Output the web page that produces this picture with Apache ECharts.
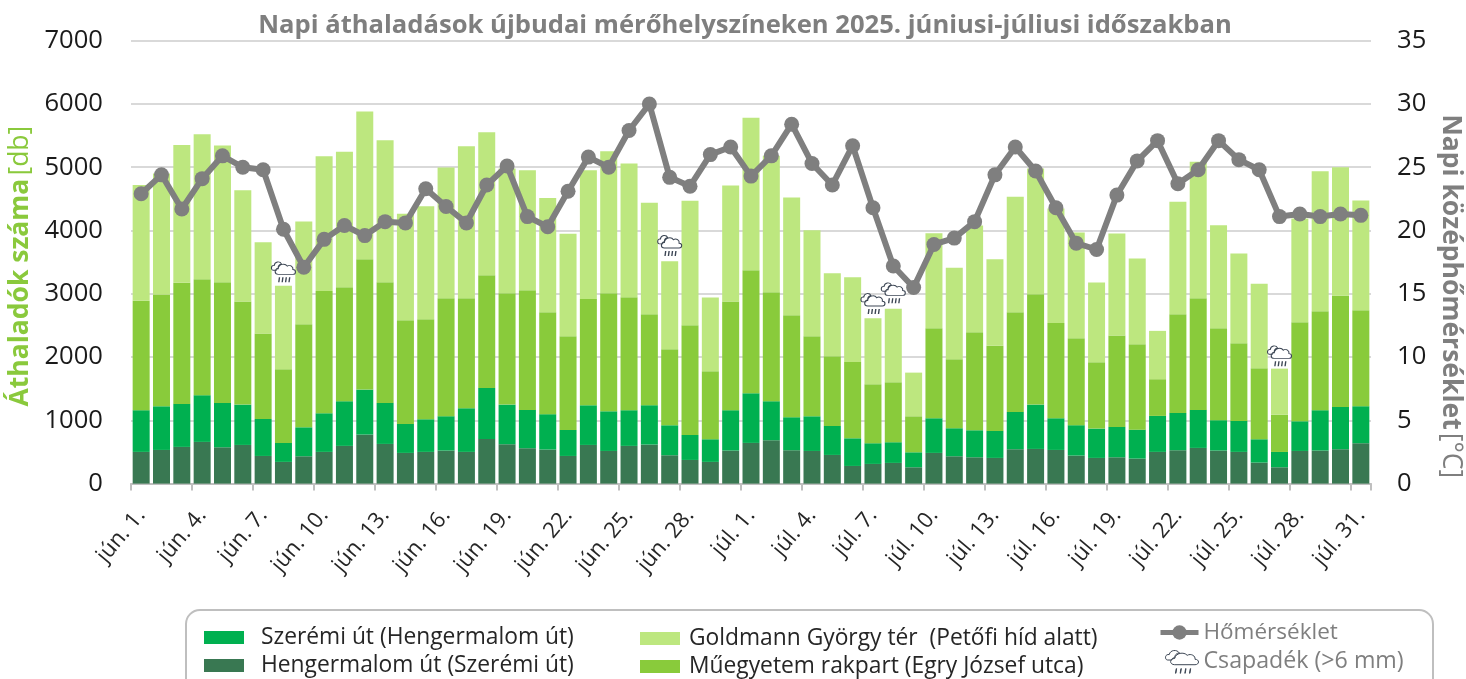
<!DOCTYPE html>
<html><head><meta charset="utf-8">
<style>html,body{margin:0;padding:0;background:#fff}#c{width:1466px;height:679px}</style>
<script src="https://cdn.jsdelivr.net/npm/echarts@6/dist/echarts.min.js"></script>
</head><body><div id="c"></div>
<script>
const categories = ["jún. 1.","jún. 2.","jún. 3.","jún. 4.","jún. 5.","jún. 6.","jún. 7.","jún. 8.","jún. 9.","jún. 10.","jún. 11.","jún. 12.","jún. 13.","jún. 14.","jún. 15.","jún. 16.","jún. 17.","jún. 18.","jún. 19.","jún. 20.","jún. 21.","jún. 22.","jún. 23.","jún. 24.","jún. 25.","jún. 26.","jún. 27.","jún. 28.","jún. 29.","jún. 30.","júl. 1.","júl. 2.","júl. 3.","júl. 4.","júl. 5.","júl. 6.","júl. 7.","júl. 8.","júl. 9.","júl. 10.","júl. 11.","júl. 12.","júl. 13.","júl. 14.","júl. 15.","júl. 16.","júl. 17.","júl. 18.","júl. 19.","júl. 20.","júl. 21.","júl. 22.","júl. 23.","júl. 24.","júl. 25.","júl. 26.","júl. 27.","júl. 28.","júl. 29.","júl. 30.","júl. 31."];
const hengermalom = [501,532,580,659,574,611,437,343,432,501,596,775,627,485,501,522,501,706,622,559,538,437,611,516,596,617,448,374,343,522,643,685,527,516,453,279,311,327,258,485,432,416,406,543,548,532,443,406,416,395,501,527,564,522,501,332,258,516,522,543,638];
const szeremi = [659,690,680,738,701,638,585,300,458,611,706,711,648,458,516,543,690,806,627,606,559,411,627,627,564,622,474,395,358,638,785,617,522,548,458,437,327,327,237,548,443,427,427,590,701,501,480,464,480,458,569,590,601,480,490,369,242,469,638,669,585];
const muegyetem = [1729,1765,1913,1834,1908,1628,1349,1165,1628,1934,1802,2061,1908,1639,1581,1866,1739,1781,1760,1892,1613,1481,1681,1866,1787,1439,1202,1734,1075,1718,1945,1723,1613,1265,1101,1207,933,949,569,1423,1091,1549,1344,1576,1744,1507,1375,1049,1444,1349,580,1560,1765,1455,1228,1123,590,1565,1565,1755,1518];
const goldmann = [1829,1913,2177,2292,2161,1760,1444,1318,1623,2129,2140,2335,2245,1681,1787,2066,2403,2261,1971,1897,1802,1618,2034,2245,2113,1760,1391,1966,1165,1834,2408,2155,1860,1676,1312,1339,1043,1159,690,1502,1444,1686,1370,1823,1987,1808,1671,1260,1613,1354,764,1776,2155,1628,1418,1333,727,1639,2213,2034,1734];
const homerseklet = [22.9,24.4,21.7,24.1,25.9,25.0,24.8,20.1,17.1,19.3,20.4,19.6,20.7,20.6,23.3,21.9,20.6,23.6,25.1,21.1,20.3,23.1,25.8,25.0,27.9,30.0,24.2,23.5,26.0,26.6,24.3,25.9,28.4,25.3,23.6,26.7,21.8,17.2,15.5,18.9,19.4,20.7,24.4,26.6,24.7,21.8,19.0,18.5,22.8,25.5,27.1,23.7,24.8,27.1,25.6,24.8,21.1,21.3,21.1,21.3,21.2];
const csapadekNapok = ["jún. 8.","jún. 27.","júl. 7.","júl. 8.","júl. 27."];
const csapadekJelSzint = [3346,3763,2846,3014,2018];

const cloudPath = 'path://M8 30C0 30 0 14 12 16C14 4 32 2 38 12C30 12 26 18 26 24C20 24 18 28 19 30ZM26 42C12 42 12 26 26 26C28 12 50 8 58 18C68 12 80 20 78 28C90 28 90 42 78 42ZM30 52L28 64L29 64L31 52ZM42 52L40 64L41 64L43 52ZM54 52L52 64L53 64L55 52ZM66 52L64 64L65 64L67 52Z';
const FONT = '"Open Sans"';
const barBase = {type:'bar',stack:'total',barWidth:17,yAxisIndex:0};
const legendBase = {orient:'vertical',selectedMode:false,itemWidth:40,itemHeight:13,padding:0};
const chart = echarts.init(document.getElementById('c'),null,{renderer:'canvas'});
chart.setOption({
  animation:false,
  textStyle:{fontFamily:FONT},
  title:{text:'Napi áthaladások újbudai mérőhelyszíneken 2025. júniusi-júliusi időszakban',left:740,textAlign:'center',top:8,
    textStyle:{fontFamily:FONT,fontWeight:'bold',fontSize:25.6,color:'#7f7f7f'}},
  grid:{left:131,right:95,top:40.7,bottom:195.4,outerBoundsMode:'none'},
  xAxis:{type:'category',data:categories,boundaryGap:true,
    axisLine:{lineStyle:{color:'#bfbfbf',width:2}},
    axisTick:{show:true,interval:2,length:7,lineStyle:{color:'#bfbfbf',width:2}},
    axisLabel:{interval:2,rotate:50,fontSize:22,color:'#262626',margin:28,fontFamily:FONT},
    splitLine:{show:false}},
  yAxis:[
    {type:'value',min:0,max:7000,interval:1000,
     name:'{b|Áthaladók száma} {l|[db]}',nameLocation:'middle',nameGap:88,nameRotate:90,
     nameTextStyle:{padding:[0,8,0,0],rich:{b:{fontFamily:FONT,fontWeight:'bold',fontSize:26.5,color:'#8ac93c'},l:{fontFamily:FONT,fontSize:26.5,color:'#8ac93c'}}},
     axisLine:{show:false},axisTick:{show:false},
     axisLabel:{fontSize:25.6,color:'#1a1a1a',margin:28,padding:[7,0,0,0],fontFamily:FONT,formatter:v=>String(v)},
     splitLine:{lineStyle:{color:'#d9d9d9',width:2}}},
    {type:'value',min:0,max:35,interval:5,
     name:'{b|Napi középhőmérséklet} {l|[°C]}',nameLocation:'middle',nameGap:66,nameRotate:-90,
     nameTextStyle:{padding:[0,0,0,68],rich:{b:{fontFamily:FONT,fontWeight:'bold',fontSize:26.5,color:'#7f7f7f'},l:{fontFamily:FONT,fontSize:26.5,color:'#7f7f7f'}}},
     axisLine:{show:false},axisTick:{show:false},
     axisLabel:{fontSize:25.6,color:'#1a1a1a',margin:26,padding:[7,0,0,0],fontFamily:FONT},
     splitLine:{show:false}}
  ],
  legend:[
    Object.assign({},legendBase,{left:204,top:626,itemGap:5,data:[{name:'Szerémi út (Hengermalom út)',icon:'rect'},{name:'Hengermalom út (Szerémi út)',icon:'rect'}],textStyle:{fontFamily:FONT,fontSize:22.8,color:'#262626',padding:[0,0,0,12]}}),
    Object.assign({},legendBase,{left:640,top:627,itemGap:5,data:[{name:'Goldmann György tér  (Petőfi híd alatt)',icon:'rect'},{name:'Műegyetem rakpart (Egry József utca)',icon:'rect'}],textStyle:{fontFamily:FONT,fontSize:22.8,color:'#262626',padding:[0,0,0,4]}}),
    Object.assign({},legendBase,{left:1158,top:621,itemWidth:38,itemHeight:18,data:['Hőmérséklet'],lineStyle:{width:5},textStyle:{fontFamily:FONT,fontSize:22.5,color:'#7f7f7f',padding:[0,0,0,0]}}),
    Object.assign({},legendBase,{left:1165,top:650,itemWidth:33,itemHeight:26,data:[{name:'Csapadék (>6 mm)',itemStyle:{color:'#fff',borderColor:'#3c4654',borderWidth:1}}],textStyle:{fontFamily:FONT,fontSize:23.2,color:'#7f7f7f',padding:[0,0,0,0]}})
  ],
  graphic:[{type:'rect',z:-1,shape:{x:186,y:610,width:1247,height:90,r:14},style:{fill:'none',stroke:'#bfbfbf',lineWidth:2},silent:true}],
  series:[
    Object.assign({},barBase,{name:'Hengermalom út (Szerémi út)',data:hengermalom,itemStyle:{color:'#397852'}}),
    Object.assign({},barBase,{name:'Szerémi út (Hengermalom út)',data:szeremi,itemStyle:{color:'#00b050'}}),
    Object.assign({},barBase,{name:'Műegyetem rakpart (Egry József utca)',data:muegyetem,itemStyle:{color:'#89cb3b'}}),
    Object.assign({},barBase,{name:'Goldmann György tér  (Petőfi híd alatt)',data:goldmann,itemStyle:{color:'#bde77f'}}),
    {type:'line',name:'Hőmérséklet',yAxisIndex:1,data:homerseklet,symbol:'circle',symbolSize:15,showSymbol:true,showAllSymbol:true,z:5,
     lineStyle:{color:'#7f7f7f',width:6},itemStyle:{color:'#7f7f7f'}},
    {type:'scatter',name:'Csapadék (>6 mm)',yAxisIndex:0,z:6,symbol:cloudPath,symbolSize:[24,20],
     data:csapadekNapok.map((d,i)=>[d,csapadekJelSzint[i]]),
     itemStyle:{color:'#fff',borderColor:'#3c4654',borderWidth:1,opacity:1}}
  ]
});
</script></body></html>
